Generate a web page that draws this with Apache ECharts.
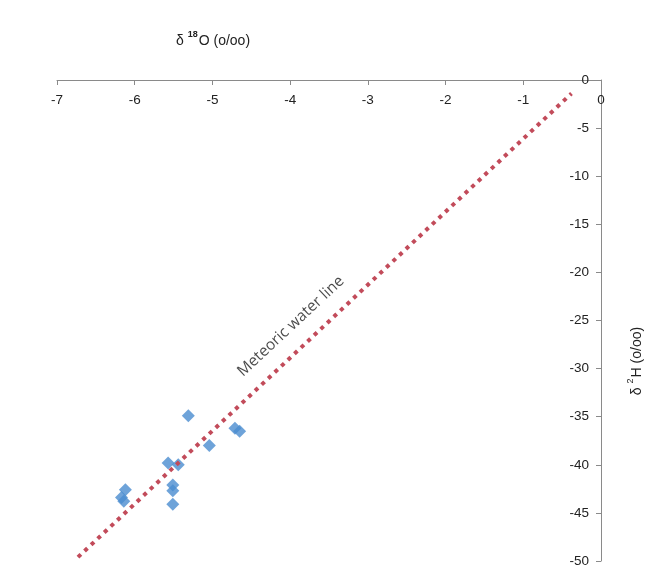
<!DOCTYPE html>
<html><head><meta charset="utf-8">
<script src="https://cdn.jsdelivr.net/npm/echarts/dist/echarts.min.js"></script>
<style>html,body{margin:0;padding:0;background:#fff}#c{width:653px;height:583px}</style>
</head><body><div id="c"></div>
<script>
// Sample values
const delta18O = [-5.31, -4.71, -4.65, -5.04, -5.57, -5.44, -6.12, -6.17, -6.14, -5.51, -5.51, -5.51];
const delta2H  = [-34.9, -36.2, -36.5, -38.0, -39.8, -40.0, -42.6, -43.4, -43.8, -42.1, -42.7, -44.1];
// Meteoric water line end points
const mwlO = [-6.73, -0.38];
const mwlH = [-49.6, -1.4];
const mwlLabelText = 'Meteoric water line';
const mwlLabelAt = [-3.99, -25.6];
const xName = ['δ ', '18', 'O (o/oo)'];
const yName = ['δ ', '2', 'H (o/oo)'];

const font = 'Liberation Sans, Arial, sans-serif';
const chart = echarts.init(document.getElementById('c'), null, {renderer: 'canvas'});
const pts = delta18O.map((v, i) => [v, delta2H[i]]);
const line = mwlO.map((v, i) => [v, mwlH[i]]);

const richName = (fillKey) => ({
  a: {fontSize: 14, [fillKey]: '#222', fontFamily: font, fontWeight: 'normal', lineHeight: 18, verticalAlign: 'bottom'},
  s: {fontSize: 9, [fillKey]: '#222', fontFamily: font, lineHeight: 18, verticalAlign: 'top', padding: [0, 1, 0, 0]}
});

chart.setOption({
  animation: false,
  backgroundColor: '#ffffff',
  grid: {left: 57, right: 52, top: 80, bottom: 22},
  title: {
    left: 171, top: 25,
    text: '{a|' + xName[0] + '}{s|' + xName[1] + '}{a|' + xName[2] + '}',
    textStyle: {rich: richName('color')}
  },
  graphic: [{
    type: 'text', x: 635, y: 361, rotation: Math.PI / 2,
    style: {
      text: '{a|' + yName[0] + '}{s|' + yName[1] + '}{a|' + yName[2] + '}',
      align: 'center', verticalAlign: 'middle',
      rich: richName('fill')
    }
  }],
  xAxis: {
    type: 'value', position: 'top', min: -7, max: 0, interval: 1,
    axisLine: {show: true, onZero: false, lineStyle: {color: '#8a8a8a', width: 1}},
    axisTick: {show: true, inside: true, length: 5, lineStyle: {color: '#8a8a8a'}},
    axisLabel: {inside: true, margin: 13, color: '#222', fontSize: 13.5, fontFamily: font, showMinLabel: true, showMaxLabel: true},
    splitLine: {show: false}
  },
  yAxis: {
    type: 'value', position: 'right', min: -50, max: 0, interval: 5,
    axisLine: {show: true, onZero: false, lineStyle: {color: '#8a8a8a', width: 1}},
    axisTick: {show: true, inside: true, length: 5, lineStyle: {color: '#8a8a8a'}},
    axisLabel: {inside: true, margin: 12, color: '#222', fontSize: 13.5, fontFamily: font, showMinLabel: true, showMaxLabel: true},
    splitLine: {show: false}
  },
  series: [
    {
      type: 'scatter', data: pts, symbol: 'diamond', symbolSize: 13,
      itemStyle: {color: '#4a8ccf'}, z: 2
    },
    {
      type: 'line', data: line, showSymbol: false, symbol: 'none',
      lineStyle: {color: '#c24b5a', width: 4, type: [4, 5], cap: 'butt'}, z: 3
    },
    {
      type: 'scatter', data: [mwlLabelAt], symbolSize: 0, silent: true,
      label: {show: true, formatter: mwlLabelText, position: 'inside', rotate: 43,
        color: '#1a1a1a', fontSize: 15.5, fontFamily: 'Open Sans, sans-serif'}
    }
  ]
});
</script></body></html>
